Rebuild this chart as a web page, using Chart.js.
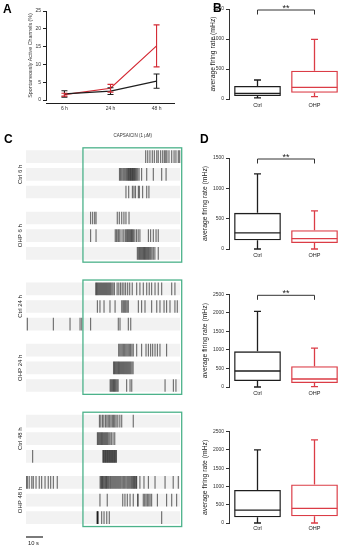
<!DOCTYPE html>
<html><head><meta charset="utf-8">
<script src="https://cdn.jsdelivr.net/npm/chart.js@4"></script>
<style>
html,body{margin:0;padding:0;background:#fff;}
#wrap{position:relative;width:343px;height:550px;overflow:hidden;background:#fff;}
canvas{position:absolute;}
</style></head><body>
<div id="wrap">
<canvas id="cA" width="185" height="120" style="left:0;top:0;width:185px;height:120px"></canvas>
<canvas id="cB" width="158" height="115" style="left:185px;top:0;width:158px;height:115px"></canvas>
<canvas id="cC" width="190" height="422" style="left:0;top:128px;width:190px;height:422px"></canvas>
<canvas id="cD1" width="158" height="137" style="left:185px;top:128px;width:158px;height:137px"></canvas>
<canvas id="cD2" width="158" height="133" style="left:185px;top:270px;width:158px;height:133px"></canvas>
<canvas id="cD3" width="158" height="134" style="left:185px;top:405px;width:158px;height:134px"></canvas>
</div>
<script>
// ---------- Panel A data ----------
const timeLabels = ['6 h', '24 h', '48 h'];
const ctrlMean = [1.7, 2.5, 5.3];
const ctrlSem = [0.9, 0.95, 2.0];
const ohpMean = [1.5, 3.3, 15.2];
const ohpSem = [0.4, 1.1, 5.9];

// ---------- Box plot data: [min, q1, median, q3, max] (mHz) ----------
const boxLabels = ['Ctrl', 'OHP'];
const bCtrl = [20, 50, 95, 217, 317];
const bOhp = [40, 105, 195, 472, 995];
const d6Ctrl = [0, 144, 265, 596, 1237];
const d6Ohp = [0, 100, 172, 310, 630];
const d24Ctrl = [0, 162, 432, 962, 2038];
const d24Ohp = [10, 108, 216, 560, 1046];
const d48Ctrl = [0, 156, 355, 902, 2000];
const d48Ohp = [0, 183, 402, 1057, 2275];

// ---------- Panel C raster data (spike times, s) ----------
const rasterLabels = ['Ctrl 6 h', 'OHP 6 h', 'Ctrl 24 h', 'OHP 24 h', 'Ctrl 48 h', 'OHP 48 h'];
const ctrl6h = [
  [70.4, 71.6, 72.9, 74.3, 75.5, 76.9, 77.8, 79.2, 80.4, 81.4, 82.2, 82.9, 84.1, 85.7, 87.1, 88.2, 89.6, 90.4],
  [55.0, 55.6, 56.3, 57.0, 57.6, 58.2, 58.8, 59.3, 59.8, 60.3, 60.7, 61.1, 61.5, 61.9, 62.3, 62.7, 63.1, 63.5, 63.9, 64.4, 65.0, 65.7, 66.5, 68.0, 71.0, 74.9, 79.8, 82.4],
  [58.8, 60.4, 62.6, 63.5, 64.4, 66.1, 66.7, 68.6, 71.0, 72.3]
];
const ohp6h = [
  [38.0, 39.2, 40.4, 41.2, 53.7, 54.9, 56.3, 57.6, 58.8, 60.6],
  [38.0, 41.2, 52.5, 53.2, 54.0, 54.6, 55.3, 56.5, 57.5, 58.4, 59.0, 59.6, 60.1, 60.6, 61.1, 61.6, 62.1, 62.6, 63.2, 64.0, 65.0, 66.0, 67.0, 72.0, 73.3, 74.9, 76.5, 77.8],
  [65.5, 66.1, 66.7, 67.2, 67.7, 68.2, 68.7, 69.2, 69.7, 70.2, 70.7, 71.2, 71.7, 72.2, 72.8, 73.4, 74.1, 74.9, 75.8, 77.8]
];
const ctrl24h = [
  [41.0, 41.5, 42.0, 42.6, 43.2, 43.8, 44.4, 45.0, 45.6, 46.2, 46.8, 47.4, 48.0, 48.6, 49.2, 49.8, 50.5, 51.2, 52.0, 53.6, 54.6, 55.6, 56.6, 57.6, 58.6, 59.8, 61.0, 62.5, 65.1, 67.0, 69.0, 71.0, 72.5, 73.9, 75.9, 77.8, 79.8, 85.7, 87.6],
  [42.0, 43.5, 45.9, 49.4, 52.4, 56.3, 57.0, 57.6, 58.2, 58.8, 59.5, 60.2, 66.1, 68.0, 70.0, 73.9, 76.9, 78.8, 81.2, 82.7, 84.7, 87.6, 89.0],
  [0.8, 16.1, 25.9, 31.8, 32.8, 38.0, 54.3, 55.3, 60.2, 61.6]
];
const ohp24h = [
  [54.5, 55.2, 55.9, 56.6, 57.3, 58.0, 58.7, 59.4, 60.1, 60.8, 61.5, 62.3, 63.1, 65.1, 68.0, 70.6, 72.0, 73.3, 74.5, 75.9, 77.3, 78.8, 82.7],
  [51.5, 52.0, 52.5, 53.0, 53.5, 54.0, 54.5, 55.0, 55.6, 56.2, 56.8, 57.4, 58.0, 58.6, 59.2, 59.8, 60.4, 61.0, 61.6, 62.3, 63.0],
  [49.5, 50.0, 50.5, 51.0, 51.5, 52.0, 52.5, 53.0, 53.6, 54.2, 59.2, 61.2, 62.2, 81.8, 86.7, 88.2]
];
const ctrl48h = [
  [43.2, 44.0, 45.0, 45.8, 46.8, 47.6, 48.4, 49.2, 50.0, 50.8, 51.5, 52.2, 53.0, 54.0, 55.2, 56.3, 63.1],
  [42.0, 42.5, 43.0, 43.5, 44.0, 44.5, 45.0, 45.6, 46.2, 46.8, 47.4, 48.0, 48.7, 49.4, 50.2, 51.2, 52.2],
  [3.9, 45.2, 45.6, 46.0, 46.4, 46.8, 47.2, 47.6, 48.0, 48.4, 48.8, 49.2, 49.6, 50.0, 50.4, 50.8, 51.2, 51.6, 52.0, 52.4, 52.8, 53.2]
];
const ohp48h = [
  [0.2, 0.8, 1.9, 3.4, 4.3, 5.9, 7.8, 9.2, 11.2, 13.1, 14.5, 16.1, 18.4,
   43.6, 44.1, 44.5, 45.0, 45.4, 45.9, 46.4, 46.9, 47.3, 47.8, 48.3, 48.8, 49.4, 49.9, 50.5, 51.1, 51.7, 52.3, 52.9, 53.5, 54.1, 54.7, 55.3, 55.9, 56.6, 57.3, 58.0, 58.7, 59.4, 60.0, 60.6, 61.2, 61.8, 62.3, 62.8, 63.3, 63.8, 64.3, 64.8, 65.1,
   67.0, 69.4, 72.0, 75.9, 81.8, 86.6, 89.6],
  [43.5, 47.8, 56.9, 58.2, 59.6, 61.2, 63.1, 65.7, 65.9, 69.0, 69.8, 70.6, 71.4, 72.2, 73.0, 73.9, 77.3, 82.7, 85.7, 88.6],
  [41.8, 42.0, 42.2, 42.4, 44.5, 45.9, 47.5, 49.0, 79.8]
];
const recordingEnd = 90.6;
const capsaicinStart = 33.5;
const capsaicinEnd = 92;
const scaleBarSeconds = 10;

// ---------- common ----------
const BLACK = '#1e1e1e', RED = '#d42a34', REDBOX = '#db3c46', GREEN = '#4cb28a';
const FONT = "'Liberation Sans', Arial, sans-serif";
Chart.defaults.font.family = FONT;
Chart.defaults.color = '#333';
Chart.defaults.responsive = false;
Chart.defaults.animation = false;
Chart.defaults.events = [];
Chart.defaults.plugins.legend.display = false;
Chart.defaults.plugins.tooltip.enabled = false;

function letterPlugin(letter, x, y) {
  return { id: 'letter' + letter, afterDraw(chart) {
    const ctx = chart.ctx; ctx.save();
    ctx.font = 'bold 12px ' + FONT; ctx.fillStyle = '#000';
    ctx.textAlign = 'left'; ctx.textBaseline = 'alphabetic';
    ctx.fillText(letter, x, y); ctx.restore();
  }};
}

// ---------- Panel A ----------
const errorBars = { id: 'errorBars', afterDatasetsDraw(chart) {
  const { ctx, scales: { x, y } } = chart;
  chart.data.datasets.forEach(ds => {
    ctx.save(); ctx.strokeStyle = ds.borderColor; ctx.lineWidth = 1.1;
    ctx.beginPath();
    ds.data.forEach((p, i) => {
      const px = x.getPixelForValue(p.x);
      const t = y.getPixelForValue(p.y + ds.err[i]);
      const b = y.getPixelForValue(p.y - ds.err[i]);
      ctx.moveTo(px, t); ctx.lineTo(px, b);
      ctx.moveTo(px - 3, t); ctx.lineTo(px + 3, t);
      ctx.moveTo(px - 3, b); ctx.lineTo(px + 3, b);
    });
    ctx.stroke(); ctx.restore();
  });
}};
const xAxisLine = { id: 'xAxisLine', afterDraw(chart) {
  const { ctx, chartArea: a } = chart;
  ctx.save(); ctx.strokeStyle = BLACK; ctx.lineWidth = 1;
  ctx.beginPath(); ctx.moveTo(a.left, a.bottom + 3.5); ctx.lineTo(a.right, a.bottom + 3.5); ctx.stroke();
  ctx.restore();
}};
new Chart('cA', {
  type: 'line',
  data: { datasets: [
    { data: ctrlMean.map((v, i) => ({ x: i, y: v })), err: ctrlSem, borderColor: BLACK, borderWidth: 1.2, pointRadius: 0, tension: 0 },
    { data: ohpMean.map((v, i) => ({ x: i, y: v })), err: ohpSem, borderColor: RED, borderWidth: 1.2, pointRadius: 0, tension: 0 }
  ]},
  options: {
    layout: { padding: { left: 27, right: 10, top: 11, bottom: 6 } },
    scales: {
      x: { type: 'linear', min: -0.4, max: 2.4,
        afterBuildTicks: s => { s.ticks = timeLabels.map((_, i) => ({ value: i })); },
        ticks: { callback: v => timeLabels[v], font: { size: 5 }, padding: 6, color: '#333', maxRotation: 0 },
        grid: { display: false, drawTicks: false }, border: { display: false },
        afterFit: s => { s.height = 14; } },
      y: { min: 0, max: 25, ticks: { stepSize: 5, font: { size: 5 }, padding: 2, color: '#333', callback: v => String(v) },
        grid: { drawOnChartArea: false, tickLength: 3, color: BLACK },
        border: { color: BLACK },
        title: { display: true, text: 'Spontaneously Active Channels (%)', font: { size: 5.3 }, padding: 0, color: '#333' },
        afterFit: s => { s.width = 19; } }
    }
  },
  plugins: [errorBars, xAxisLine, letterPlugin('A', 3, 13)]
});

// ---------- Box plots ----------
const whiskers = { id: 'whiskers', afterDatasetsDraw(chart) {
  const ctx = chart.ctx, y = chart.scales.y;
  const ds = chart.data.datasets[0];
  chart.getDatasetMeta(0).data.forEach((bar, i) => {
    const s = ds.stats[i];
    const { x: cx, width: w } = bar.getProps(['x', 'width'], true);
    const hw = w / 2;
    ctx.save(); ctx.strokeStyle = ds.borderColor[i]; ctx.lineWidth = 1.3;
    const pMin = y.getPixelForValue(s[0]), pQ1 = y.getPixelForValue(s[1]),
      pMed = y.getPixelForValue(s[2]), pQ3 = y.getPixelForValue(s[3]), pMax = y.getPixelForValue(s[4]);
    ctx.beginPath();
    ctx.moveTo(cx - hw + 0.6, pMed); ctx.lineTo(cx + hw - 0.6, pMed);
    ctx.moveTo(cx, pQ3); ctx.lineTo(cx, pMax);
    ctx.moveTo(cx - 3.5, pMax); ctx.lineTo(cx + 3.5, pMax);
    ctx.moveTo(cx, pQ1); ctx.lineTo(cx, pMin);
    ctx.moveTo(cx - 3.5, pMin); ctx.lineTo(cx + 3.5, pMin);
    ctx.stroke(); ctx.restore();
  });
}};
const bracket = { id: 'bracket', afterDraw(chart) {
  const ds = chart.data.datasets[0];
  if (!ds.stars) return;
  const ctx = chart.ctx, a = chart.chartArea;
  const bars = chart.getDatasetMeta(0).data;
  const x1 = bars[0].x, x2 = bars[1].x, top = a.top + 1;
  ctx.save(); ctx.strokeStyle = '#333'; ctx.lineWidth = 1;
  ctx.beginPath();
  ctx.moveTo(x1, top + 4.5); ctx.lineTo(x1, top); ctx.lineTo(x2, top); ctx.lineTo(x2, top + 4.5);
  ctx.stroke();
  ctx.fillStyle = '#222'; ctx.font = '9px ' + FONT; ctx.textAlign = 'center'; ctx.textBaseline = 'alphabetic';
  ctx.fillText(ds.stars, (x1 + x2) / 2, top + 0.5);
  ctx.restore();
}};
function boxChart(id, ctrl, ohp, yMax, o) {
  return new Chart(id, {
    type: 'bar',
    data: { labels: boxLabels, datasets: [{
      data: [[ctrl[1], ctrl[3]], [ohp[1], ohp[3]]], stats: [ctrl, ohp], stars: o.stars,
      backgroundColor: 'rgba(255,255,255,0)', borderColor: [BLACK, REDBOX], borderWidth: 1.3,
      borderSkipped: false, barPercentage: 0.82, categoryPercentage: 1 }] },
    options: {
      layout: { padding: { left: o.pl, right: 0, top: o.pt, bottom: 4 } },
      scales: {
        x: { ticks: { font: { size: 5.5 }, padding: o.xpad, color: '#222' }, grid: { display: false, drawTicks: false }, border: { display: false },
          afterFit: s => { s.height = 12; } },
        y: { min: 0, max: yMax, ticks: { stepSize: 500, font: { size: 5 }, padding: 2, color: '#333', callback: v => String(v) },
          grid: { drawOnChartArea: false, tickLength: 3, color: '#333' }, border: { color: '#333' },
          title: { display: true, text: 'average firing rate (mHz)', font: { size: 6.8 }, padding: 0, color: '#222' },
          afterFit: s => { s.width = o.yw; } }
      }
    },
    plugins: [whiskers, bracket].concat(o.letter ? [letterPlugin(o.letter, o.lx, o.ly)] : [])
  });
}
boxChart('cB', bCtrl, bOhp, 1500, { pl: 24, yw: 20, pt: 9, xpad: 3, stars: '**', letter: 'B', lx: 28, ly: 12 });
boxChart('cD1', d6Ctrl, d6Ohp, 1500, { pl: 16, yw: 28, pt: 30, xpad: 3, stars: '**', letter: 'D', lx: 15, ly: 15 });
boxChart('cD2', d24Ctrl, d24Ohp, 2500, { pl: 16, yw: 28, pt: 24.3, xpad: 3, stars: '**' });
boxChart('cD3', d48Ctrl, d48Ohp, 2500, { pl: 16, yw: 28, pt: 26.7, xpad: 2.5 });

// ---------- Panel C raster ----------
const rasterGroups = [ctrl6h, ohp6h, ctrl24h, ohp24h, ctrl48h, ohp48h];
function rowPos(cond, r) { return Math.floor(cond / 2) * 7.49 + (cond % 2) * 3.475 + r; }
const BAND_H = 12.7;
const rasterSets = [];
rasterGroups.forEach((rows, c) => rows.forEach((times, r) => {
  const yv = rowPos(c, r);
  rasterSets.push({ data: [{ x: 0, y: yv }, { x: recordingEnd, y: yv }], showLine: true,
    borderColor: '#f2f2f2', borderWidth: BAND_H, borderCapStyle: 'butt', pointRadius: 0, order: 2 });
  rasterSets.push({ data: times.map(t => ({ x: t, y: yv })), showLine: false,
    pointStyle: 'line', pointRotation: 90, pointRadius: BAND_H / 2, pointBorderWidth: 1.15,
    pointBorderColor: 'rgba(0,0,0,0.55)', pointBackgroundColor: 'rgba(0,0,0,0)', order: 1 });
}));
const rasterDecor = { id: 'rasterDecor', afterDraw(chart) {
  const { ctx, scales: { x, y } } = chart;
  ctx.save();
  ctx.strokeStyle = GREEN; ctx.lineWidth = 1.3;
  for (let g = 0; g < 3; g++) {
    const x1 = x.getPixelForValue(capsaicinStart), x2 = x.getPixelForValue(capsaicinEnd) - 0.7;
    const y1 = y.getPixelForValue(rowPos(2 * g, 0)) - BAND_H / 2 - 2.5;
    const y2 = y.getPixelForValue(rowPos(2 * g + 1, 2)) + BAND_H / 2 + 2.5;
    ctx.strokeRect(x1, y1, x2 - x1, y2 - y1);
  }
  ctx.fillStyle = '#333'; ctx.font = '4.5px ' + FONT; ctx.textAlign = 'center'; ctx.textBaseline = 'middle';
  ctx.fillText('CAPSAICIN (1 μM)', (x.getPixelForValue(capsaicinStart) + x.getPixelForValue(capsaicinEnd)) / 2, 7.5);
  ctx.font = '6px ' + FONT; ctx.fillStyle = '#222';
  rasterLabels.forEach((lab, c) => {
    const yc = y.getPixelForValue(rowPos(c, 1));
    ctx.save(); ctx.translate(20, yc); ctx.rotate(-Math.PI / 2);
    ctx.fillText(lab, 0, 0); ctx.restore();
  });
  const sb = 409;
  ctx.strokeStyle = '#222'; ctx.lineWidth = 1.2;
  ctx.beginPath(); ctx.moveTo(x.getPixelForValue(0), sb); ctx.lineTo(x.getPixelForValue(scaleBarSeconds), sb); ctx.stroke();
  ctx.font = '5.8px ' + FONT; ctx.fillStyle = '#222';
  ctx.fillText('10 s', x.getPixelForValue(scaleBarSeconds / 2) - 1, 415);
  ctx.font = 'bold 12px ' + FONT; ctx.fillStyle = '#000'; ctx.textAlign = 'left'; ctx.textBaseline = 'alphabetic';
  ctx.fillText('C', 4, 15);
  ctx.restore();
}};
new Chart('cC', {
  type: 'scatter',
  data: { datasets: rasterSets },
  options: {
    layout: { padding: { left: 26, right: 7.6, top: 0, bottom: 0 } },
    scales: {
      x: { type: 'linear', min: 0, max: capsaicinEnd, display: false },
      y: { type: 'linear', min: -1.2, max: 21.86, reverse: true, display: false }
    }
  },
  plugins: [rasterDecor]
});
</script>
</body></html>
